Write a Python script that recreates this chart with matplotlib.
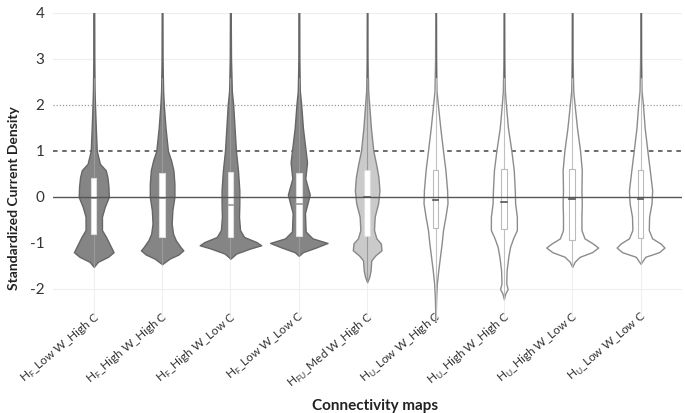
import numpy as np
import matplotlib.pyplot as plt

plt.rcParams['font.family'] = ['Lato', 'DejaVu Sans']
plt.rcParams['mathtext.fontset'] = 'custom'
plt.rcParams['mathtext.rm'] = 'Lato'

labels = [r'H$_\mathrm{F}$_Low W_High C', r'H$_\mathrm{F}$_High W_High C',
          r'H$_\mathrm{F}$_High W_Low C', r'H$_\mathrm{F}$_Low W_Low C',
          r'H$_\mathrm{FU}$_Med W_High C', r'H$_\mathrm{U}$_Low W_High C',
          r'H$_\mathrm{U}$_High W_High C', r'H$_\mathrm{U}$_High W_Low C',
          r'H$_\mathrm{U}$_Low W_Low C']

# violin outlines: value levels and half-widths
prof_y = [
    [4, 3, 2.3, 2, 1.5, 1, 0.72, 0.58, 0.43, 0.22, 0, -0.22, -0.43, -0.72, -0.87, -1.05, -1.2, -1.3, -1.41, -1.52],
    [4, 3, 2.3, 2, 1.5, 1, 0.8, 0.58, 0.29, 0, -0.29, -0.58, -0.8, -0.94, -1.09, -1.16, -1.25, -1.34, -1.46],
    [4, 3, 2.3, 2, 1.5, 1, 0.58, 0.14, -0.14, -0.43, -0.72, -0.87, -0.98, -1.05, -1.12, -1.23, -1.34],
    [4, 3, 2.3, 2, 1.5, 1, 0.75, 0.4, 0.05, -0.35, -0.75, -0.9, -1.0, -1.1, -1.2, -1.28],
    [4, 3, 2.3, 2, 1.5, 1, 0.72, 0.43, 0.14, -0.14, -0.43, -0.72, -0.9, -1.01, -1.16, -1.27, -1.38, -1.6, -1.74, -1.85],
    [4, 3, 2.3, 2, 1.5, 1, 0.58, 0.14, -0.14, -0.43, -0.72, -1.01, -1.3, -1.6, -1.88, -2.17, -2.72],
    [4, 3, 2.3, 2, 1.5, 1, 0.58, 0.14, -0.14, -0.43, -0.72, -0.9, -1.09, -1.3, -1.6, -1.88, -2.0, -2.1, -2.22],
    [4, 3, 2.3, 2, 1.5, 1, 0.58, 0.14, -0.14, -0.43, -0.72, -0.9, -1.01, -1.1, -1.2, -1.3, -1.41, -1.52],
    [4, 3, 2.3, 2, 1.5, 1, 0.58, 0.14, -0.14, -0.43, -0.72, -0.9, -1.01, -1.1, -1.2, -1.3, -1.45],
]
prof_w = [
    [0.004, 0.006, 0.012, 0.018, 0.03, 0.044, 0.09, 0.175, 0.2, 0.215, 0.22, 0.16, 0.12, 0.12, 0.18, 0.24, 0.29, 0.21, 0.06, 0],
    [0.004, 0.006, 0.015, 0.025, 0.05, 0.085, 0.13, 0.165, 0.18, 0.18, 0.15, 0.14, 0.16, 0.2, 0.27, 0.31, 0.24, 0.11, 0],
    [0.004, 0.008, 0.02, 0.04, 0.06, 0.08, 0.11, 0.13, 0.13, 0.125, 0.14, 0.2, 0.38, 0.45, 0.29, 0.085, 0],
    [0.004, 0.006, 0.015, 0.035, 0.06, 0.1, 0.12, 0.095, 0.16, 0.09, 0.1, 0.2, 0.42, 0.25, 0.06, 0],
    [0.004, 0.006, 0.015, 0.03, 0.055, 0.09, 0.13, 0.165, 0.18, 0.16, 0.11, 0.1, 0.135, 0.2, 0.21, 0.12, 0.06, 0.05, 0.03, 0],
    [0.004, 0.006, 0.015, 0.035, 0.07, 0.11, 0.145, 0.17, 0.175, 0.145, 0.11, 0.09, 0.065, 0.04, 0.02, 0.01, 0],
    [0.004, 0.006, 0.015, 0.03, 0.06, 0.11, 0.145, 0.16, 0.165, 0.19, 0.19, 0.135, 0.09, 0.065, 0.04, 0.035, 0.055, 0.02, 0],
    [0.004, 0.006, 0.015, 0.035, 0.07, 0.115, 0.14, 0.135, 0.14, 0.135, 0.135, 0.18, 0.3, 0.38, 0.29, 0.11, 0.035, 0],
    [0.004, 0.006, 0.015, 0.035, 0.06, 0.1, 0.135, 0.17, 0.16, 0.125, 0.12, 0.17, 0.29, 0.35, 0.27, 0.07, 0],
]

q3 = [0.42, 0.53, 0.54, 0.51, 0.58, 0.58, 0.6, 0.6, 0.58]
median = [-0.02, -0.03, -0.17, -0.145, -0.01, -0.06, -0.11, -0.05, -0.05]
q1 = [-0.81, -0.87, -0.87, -0.85, -0.85, -0.67, -0.69, -0.94, -0.89]

fills = ['#858585'] * 4 + ['#cacaca'] + ['white'] * 4
edges = ['#666666'] * 4 + ['#888888'] + ['#8c8c8c'] * 4

fig = plt.figure(figsize=(6.85, 4.13), dpi=100)
ax = fig.add_axes([0.077, 0.22, 0.918, 0.749])

pos = np.arange(1, len(labels) + 1)
ax.set_xlim(0.4, len(labels) + 0.6)
ax.set_ylim(-2.72, 4)

for p in pos:
    ax.axvline(p, color='#efefef', lw=0.8, zorder=0)
for yy in [3, 4, -2]:
    ax.axhline(yy, color='#eeeeee', lw=0.8, zorder=0)
ax.axhline(2, color='#9a9a9a', lw=0.9, ls=(0, (1, 1.5)), zorder=1)
ax.axhline(1, color='#444444', lw=1.1, ls=(0, (3, 3)), zorder=1)

for i, p in enumerate(pos):
    y = np.array(prof_y[i])
    w = np.array(prof_w[i])
    ax.fill_betweenx(y, p - w, p + w, facecolor=fills[i], edgecolor=edges[i], lw=1.0, zorder=2)
    ax.plot([p, p], [y.min(), 4], color='#9a9a9a' if i < 5 else '#c0c0c0', lw=0.8, zorder=3)
    ax.plot([p, p], [2.6, 4], color='#666666', lw=1.0, zorder=3)
    bw = 0.04
    ax.add_patch(plt.Rectangle((p - bw, q1[i]), 2 * bw, q3[i] - q1[i], facecolor='white',
                               edgecolor='#bbbbbb' if i >= 5 else '#dddddd', lw=0.8, zorder=4))
    ax.plot([p - bw, p + bw], [median[i]] * 2, color='#555555' if i >= 4 else '#999999', lw=1.2, zorder=5)

ax.axhline(0, color='#555555', lw=1.0, zorder=6)

ax.set_xticks(pos)
ax.set_xticklabels(labels, rotation=40, ha='right', va='top', rotation_mode='anchor',
                   fontsize=8.6, color='#333333')
ax.tick_params(axis='x', length=0, pad=-9)
ax.set_yticks([-2, -1, 0, 1, 2, 3, 4])
ax.set_yticklabels(['-2', '-1', '0', '1', '2', '3', '4'])
ax.tick_params(axis='y', length=0, pad=6, labelsize=11, labelcolor='#333333')
for s in ax.spines.values():
    s.set_visible(False)

ax.set_ylabel('Standardized Current Density', fontsize=10, fontweight='bold', color='#222222')
ax.yaxis.set_label_coords(-0.052, 0.4)
fig.text(0.548, 0.008, 'Connectivity maps', fontsize=11, fontweight='bold', color='#222222', ha='center')

fig.savefig('out.png', dpi=100)
